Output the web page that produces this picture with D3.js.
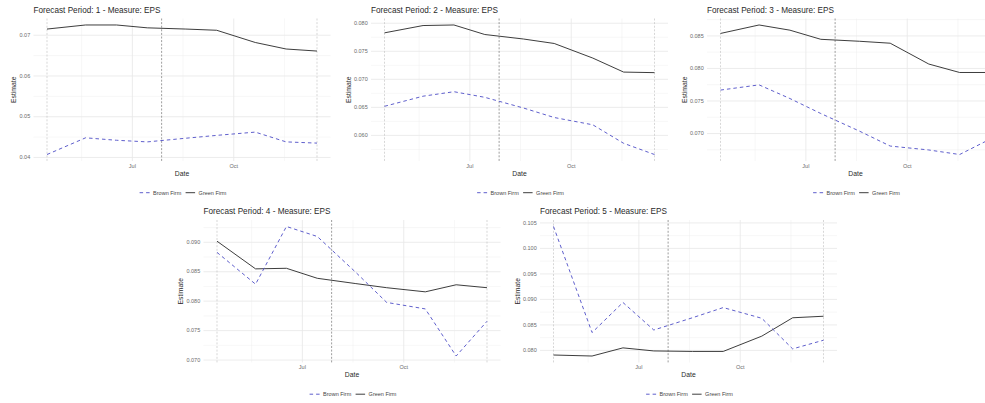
<!DOCTYPE html>
<html>
<head>
<meta charset="utf-8">
<script src="https://cdn.jsdelivr.net/npm/d3@7"></script>
<style>
  body { margin: 0; background: #fff; }
  svg { display: block; }
  text { font-family: "Liberation Sans", Arial, Helvetica, sans-serif; }
</style>
</head>
<body>
<svg id="chart" width="985" height="403"></svg>
<script>
// Monthly consensus dates and the event marker
const dates = ["2021-04-15", "2021-05-20", "2021-06-17", "2021-07-15", "2021-08-19",
               "2021-09-16", "2021-10-21", "2021-11-18", "2021-12-16"];
const eventDate = "2021-07-28";
const periods = [1, 2, 3, 4, 5];
const seriesNames = ["Brown Firm", "Green Firm"];

// EPS estimates per forecast period
const brown1 = [0.0406, 0.0447, 0.0441, 0.0437, 0.0446, 0.0453, 0.0461, 0.0437, 0.0434];
const green1 = [0.0714, 0.0724, 0.0724, 0.0717, 0.0714, 0.0711, 0.0681, 0.0665, 0.0660];
const brown2 = [0.0651, 0.0669, 0.0677, 0.0667, 0.0648, 0.0631, 0.0618, 0.0585, 0.0565];
const green2 = [0.0782, 0.0795, 0.0796, 0.0779, 0.0771, 0.0763, 0.0737, 0.0712, 0.0711];
const brown3 = [0.0766, 0.0774, 0.0753, 0.0730, 0.0703, 0.0680, 0.0674, 0.0667, 0.0691];
const green3 = [0.0853, 0.0866, 0.0858, 0.0844, 0.0841, 0.0838, 0.0806, 0.0793, 0.0793];
const brown4 = [0.0882, 0.0828, 0.0926, 0.0909, 0.0848, 0.0797, 0.0786, 0.0706, 0.0765];
const green4 = [0.0901, 0.0854, 0.0855, 0.0838, 0.0829, 0.0822, 0.0815, 0.0827, 0.0822];
const brown5 = [0.1042, 0.0834, 0.0893, 0.0839, 0.0863, 0.0883, 0.0862, 0.0802, 0.0819];
const green5 = [0.0790, 0.0788, 0.0804, 0.0798, 0.0797, 0.0797, 0.0827, 0.0863, 0.0866];

// Axis tick labels
const yTicks1 = ["0.04", "0.05", "0.06", "0.07"];
const yTicks2 = ["0.060", "0.065", "0.070", "0.075", "0.080"];
const yTicks3 = ["0.070", "0.075", "0.080", "0.085"];
const yTicks4 = ["0.070", "0.075", "0.080", "0.085", "0.090"];
const yTicks5 = ["0.080", "0.085", "0.090", "0.095", "0.100", "0.105"];
const xTickDates = ["2021-07-01", "2021-10-01"];
const xTickLabels = ["Jul", "Oct"];
const xMinorDates = ["2021-05-16", "2021-08-16", "2021-11-16"];

const brownSeries = [brown1, brown2, brown3, brown4, brown5];
const greenSeries = [green1, green2, green3, green4, green5];
const yTickSets = [yTicks1, yTicks2, yTicks3, yTicks4, yTicks5];

// Panel placement: three on top, two centred below
const panelLeft = [33.5, 371, 707, 203.5, 540];
const rowTop = [0, 0, 0, 201.5, 201.5];
const PW = 297, PT = 18.5, PB = 161;

const parse = d3.timeParse("%Y-%m-%d");
const dateVals = dates.map(parse);
const BROWN = "#5656c9", GREEN = "#333333";
const TITLE = "#2a2a2a", AXTXT = "#6a6a6a";
const svg = d3.select("#chart");

const span = dateVals[dateVals.length - 1] - dateVals[0];
const xDomain = [new Date(+dateVals[0] - 0.05 * span), new Date(+dateVals[dateVals.length - 1] + 0.05 * span)];

periods.forEach((p, i) => {
  const left = panelLeft[i], top = rowTop[i] + PT, bottom = rowTop[i] + PB;
  const g = svg.append("g");

  const x = d3.scaleTime().domain(xDomain).range([left, left + PW]);
  const all = brownSeries[i].concat(greenSeries[i]);
  const lo = d3.min(all), hi = d3.max(all), pad = 0.05 * (hi - lo);
  const y = d3.scaleLinear().domain([lo - pad, hi + pad]).range([bottom, top]);

  const ticks = yTickSets[i].map(Number);
  const step = ticks[1] - ticks[0];
  const minor = [ticks[0] - step / 2].concat(ticks.map(t => t + step / 2))
    .filter(v => v >= y.domain()[0] && v <= y.domain()[1]);

  // minor grid
  g.append("g").attr("transform", `translate(${left},0)`)
    .call(d3.axisLeft(y).tickValues(minor).tickSize(-PW).tickFormat(""))
    .call(a => a.select(".domain").remove())
    .call(a => a.selectAll("line").attr("stroke", "#efefef").attr("stroke-width", 0.5));
  g.append("g").attr("transform", `translate(0,${bottom})`)
    .call(d3.axisBottom(x).tickValues(xMinorDates.map(parse)).tickSize(-(bottom - top)).tickFormat(""))
    .call(a => a.select(".domain").remove())
    .call(a => a.selectAll("line").attr("stroke", "#efefef").attr("stroke-width", 0.5));

  // major grid + labels
  const yAxis = g.append("g").attr("transform", `translate(${left},0)`)
    .call(d3.axisLeft(y).tickValues(ticks).tickSize(-PW).tickPadding(3.3)
      .tickFormat((d, k) => yTickSets[i][k]))
    .call(a => a.select(".domain").remove())
    .call(a => a.selectAll("line").attr("stroke", "#e8e8e8").attr("stroke-width", 0.85));
  yAxis.selectAll("text").attr("fill", AXTXT).attr("font-size", 5.5)
    .attr("font-family", "'Liberation Sans', Arial, sans-serif");

  const xAxis = g.append("g").attr("transform", `translate(0,${bottom})`)
    .call(d3.axisBottom(x).tickValues(xTickDates.map(parse)).tickSize(-(bottom - top)).tickPadding(3)
      .tickFormat((d, k) => xTickLabels[k]))
    .call(a => a.select(".domain").remove())
    .call(a => a.selectAll("line").attr("stroke", "#e8e8e8").attr("stroke-width", 0.85));
  xAxis.selectAll("text").attr("fill", AXTXT).attr("font-size", 5.5)
    .attr("font-family", "'Liberation Sans', Arial, sans-serif");

  // reference lines: first date, event, last date
  const vlines = [
    { d: dateVals[0], c: "#c6c6c6" },
    { d: parse(eventDate), c: "#747474" },
    { d: dateVals[dateVals.length - 1], c: "#c6c6c6" }
  ];
  g.selectAll(".vl").data(vlines).join("line")
    .attr("x1", d => x(d.d)).attr("x2", d => x(d.d))
    .attr("y1", top).attr("y2", bottom)
    .attr("stroke", d => d.c).attr("stroke-width", 0.7).attr("stroke-dasharray", "2,1.6");

  // series
  const line = d3.line().x((d, k) => x(dateVals[k])).y(d => y(d));
  g.append("path").datum(greenSeries[i]).attr("d", line)
    .attr("fill", "none").attr("stroke", GREEN).attr("stroke-width", 0.95);
  g.append("path").datum(brownSeries[i]).attr("d", line)
    .attr("fill", "none").attr("stroke", BROWN).attr("stroke-width", 0.95)
    .attr("stroke-dasharray", "3.5,3");

  // title
  g.append("text").attr("x", left).attr("y", rowTop[i] + 12.6)
    .attr("font-size", 8.2).attr("fill", TITLE)
    .text(`Forecast Period: ${p} - Measure: EPS`);

  // axis titles
  const cx = left + PW / 2;
  g.append("text").attr("x", cx).attr("y", rowTop[i] + 175.6)
    .attr("text-anchor", "middle").attr("font-size", 6.8).attr("fill", TITLE).text("Date");
  let maxW = 0;
  yAxis.selectAll("text").each(function () { maxW = Math.max(maxW, this.getComputedTextLength()); });
  const ex = left - 3.3 - maxW - 5.5;
  const ey = (top + bottom) / 2;
  g.append("text").attr("transform", `translate(${ex},${ey}) rotate(-90)`)
    .attr("text-anchor", "middle").attr("dy", "0.35em")
    .attr("font-size", 6.8).attr("fill", TITLE).text("Estimate");

  // legend
  const ly = rowTop[i] + 192.7;
  const lx = cx + 1 - 43.4;
  const lg = g.append("g").attr("transform", `translate(${lx},${ly})`);
  lg.append("line").attr("x1", 0).attr("x2", 10).attr("y1", 0).attr("y2", 0)
    .attr("stroke", BROWN).attr("stroke-width", 0.95).attr("stroke-dasharray", "3.5,3");
  lg.append("text").attr("x", 13.5).attr("dy", "0.35em").attr("font-size", 5.5).attr("fill", "#444").text(seriesNames[0]);
  lg.append("line").attr("x1", 46).attr("x2", 55.5).attr("y1", 0).attr("y2", 0)
    .attr("stroke", GREEN).attr("stroke-width", 0.95);
  lg.append("text").attr("x", 59).attr("dy", "0.35em").attr("font-size", 5.5).attr("fill", "#444").text(seriesNames[1]);
});
</script>
</body>
</html>
